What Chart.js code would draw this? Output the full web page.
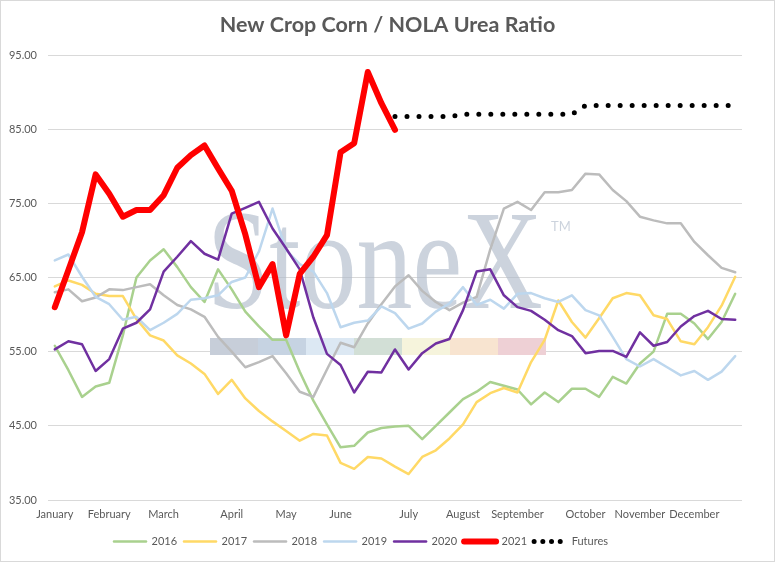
<!DOCTYPE html>
<html>
<head>
<meta charset="utf-8">
<script src="https://cdn.jsdelivr.net/npm/chart.js@4"></script>
<style>
  html, body { margin: 0; padding: 0; background: #fff; }
  #wrap { width: 775px; height: 562px; }
</style>
</head>
<body>
<div id="wrap"><canvas id="ratioChart" width="775" height="562"></canvas></div>
<script>
// weekly points, month name on the first week of each month
const weekLabels = ['January', '', '', '', 'February', '', '', '', 'March', '', '', '', '', 'April', '', '', '', 'May', '', '', '', 'June', '', '', '', '',
    'July', '', '', '', 'August', '', '', '', 'September', '', '', '', '', 'October', '', '', '', 'November', '', '', '', 'December', '', '', ''];

const yTicks = [35, 45, 55, 65, 75, 85, 95];

const ratio2016 = [55.8, 52.5, 48.9, 50.3, 50.8, 57.2, 65.0, 67.3, 68.8, 66.4, 63.7, 61.7, 66.1, 63.4, 60.4, 58.4, 56.6, 56.6, 52.3, 48.4,
    45.2, 42.1, 42.3, 44.1, 44.7, 44.9, 45.0, 43.2, 45.0, 46.8, 48.6, 49.6, 50.9, 50.4, 49.9, 47.9, 49.5, 48.2, 50.0, 50.0,
    48.9, 51.6, 50.7, 53.4, 55.0, 60.1, 60.1, 58.8, 56.7, 59.0, 62.8];
const ratio2017 = [63.8, 64.6, 64.0, 62.8, 62.5, 62.5, 59.4, 57.2, 56.5, 54.5, 53.4, 52.0, 49.3, 51.2, 48.7, 47.0, 45.6, 44.3, 43.0, 43.9,
    43.7, 40.0, 39.2, 40.8, 40.6, 39.5, 38.5, 40.8, 41.7, 43.3, 45.2, 48.2, 49.4, 50.1, 49.5, 53.6, 56.6, 61.9, 59.0, 56.9,
    59.5, 62.2, 62.9, 62.6, 59.9, 59.4, 56.4, 56.0, 58.3, 61.2, 65.1];
const ratio2018 = [63.0, 63.4, 61.8, 62.3, 63.4, 63.3, 63.7, 64.1, 62.6, 61.3, 60.7, 59.7, 57.0, 55.0, 52.9, 53.6, 54.4, 52.1, 49.6, 48.9,
    52.6, 56.2, 55.6, 58.8, 61.4, 63.8, 65.3, 63.2, 61.7, 60.6, 61.6, 62.4, 68.8, 74.3, 75.2, 74.1, 76.5, 76.5, 76.8, 79.0,
    78.9, 76.8, 75.3, 73.2, 72.7, 72.3, 72.3, 69.8, 68.0, 66.3, 65.7];
const ratio2019 = [67.3, 68.1, 65.1, 62.4, 61.4, 59.3, 59.7, 57.9, 58.9, 60.1, 62.0, 62.2, 62.6, 64.4, 65.0, 68.5, 74.3, 68.7, 66.8, 65.8,
    62.9, 58.3, 58.9, 59.2, 61.1, 60.2, 58.1, 58.8, 60.4, 61.5, 63.7, 61.3, 62.0, 60.8, 62.8, 62.9, 62.2, 61.7, 62.6, 60.6,
    59.9, 57.0, 54.0, 53.0, 54.0, 52.9, 51.8, 52.4, 51.2, 52.3, 54.4];
const ratio2020 = [55.3, 56.4, 56.0, 52.4, 54.0, 58.1, 58.9, 60.7, 65.8, 67.8, 69.9, 68.2, 67.4, 73.6, 74.4, 75.2, 71.6, 68.9, 66.1, 59.6,
    54.7, 53.2, 49.5, 52.3, 52.2, 55.3, 52.6, 54.8, 56.1, 56.7, 60.6, 65.8, 66.1, 62.6, 61.0, 60.5, 59.3, 57.9, 57.1, 54.8,
    55.1, 55.1, 54.3, 57.6, 55.8, 56.3, 58.4, 59.8, 60.5, 59.4, 59.3];
const ratio2021 = [61.0, 66.0, 71.1, 78.9, 76.3, 73.2, 74.1, 74.1, 76.1, 79.8, 81.5, 82.8, 79.7, 76.7, 70.8, 63.7, 66.8, 57.2, 65.5, 67.8,
    70.7, 81.9, 83.1, 92.7, 88.5, 84.9];
const ratioFutures = [86.7, 86.7, 86.7, 86.7, 86.7, 87.0, 87.0, 87.0, 87.0, 87.0, 87.0, 87.0, 87.0, 87.0,
    88.2, 88.2, 88.2, 88.2, 88.2, 88.2, 88.2, 88.2, 88.2, 88.2, 88.2, 88.2];
const futuresStart = 25;

const pad = (arr, before) => Array(before).fill(null).concat(arr).concat(Array(Math.max(0, weekLabels.length - before - arr.length)).fill(null));

const textGrey = '#595959';
const fontName = 'Lato, "Open Sans", sans-serif';

// StoneX watermark behind the lines
const watermark = {
    id: 'watermark',
    beforeDatasetsDraw(chart) {
        const ctx = chart.ctx;
        ctx.save();
        ctx.fillStyle = 'rgba(172, 184, 200, 0.62)';
        ctx.font = '141px "Liberation Serif", "DejaVu Serif", serif';
        ctx.textBaseline = 'alphabetic';
        ctx.fillText('StoneX', 207, 308, 336);
        ctx.font = '13px ' + fontName;
        ctx.fillText('TM', 551, 231);
        const barColors = ['#c7ced9', '#c6d3e2', '#dce8f3', '#d2dfd6', '#f6f4dc', '#f8e4d0', '#eed0d5'];
        const x0 = 210, segW = 48;
        barColors.forEach((c, i) => {
            ctx.fillStyle = c;
            ctx.fillRect(x0 + i * segW, 338, segW, 17);
        });
        ctx.restore();
    },
    afterDraw(chart) {
        const ctx = chart.ctx;
        ctx.save();
        ctx.strokeStyle = '#d9d9d9';
        ctx.lineWidth = 1;
        ctx.strokeRect(0.5, 0.5, chart.width - 1, chart.height - 1);
        ctx.restore();
    }
};

// title sits on the canvas centre, legend a little left of it
const boxShift = {
    id: 'boxShift',
    afterLayout(chart) {
        chart.legend.left -= 10;
        chart.legend.right -= 10;
        chart.titleBlock.left += 16.5;
        chart.titleBlock.right += 16.5;
    }
};

function series(label, data, color, width, order) {
    return {
        label, data, order,
        borderColor: color,
        backgroundColor: color,
        borderWidth: width,
        pointRadius: 0,
        pointHoverRadius: 0,
        tension: 0,
        fill: false,
        borderJoinStyle: 'round',
        borderCapStyle: 'round'
    };
}

const futures = series('Futures', pad(ratioFutures, futuresStart), '#000000', 5, 1);
futures.borderDash = [0, 12];

const chart = new Chart(document.getElementById('ratioChart').getContext('2d'), {
    type: 'line',
    data: {
        labels: weekLabels,
        datasets: [
            series('2016', ratio2016, '#a9d18e', 2.5, 7),
            series('2017', ratio2017, '#ffd966', 2.5, 6),
            series('2018', ratio2018, '#bcbcbc', 2.5, 5),
            series('2019', ratio2019, '#bdd7ee', 2.5, 4),
            series('2020', ratio2020, '#7030a0', 2.5, 3),
            series('2021', pad(ratio2021, 0), '#ff0000', 6, 2),
            futures
        ]
    },
    options: {
        responsive: false,
        animation: false,
        devicePixelRatio: 1,
        layout: { padding: { left: 0, right: 33, top: 0, bottom: 5 } },
        scales: {
            x: {
                type: 'category',
                offset: true,
                grid: { display: false, drawTicks: false },
                border: { display: false },
                ticks: { autoSkip: false, maxRotation: 0, minRotation: 0, padding: 8, color: textGrey, font: { family: fontName, size: 11 } },
                afterFit: s => { s.height = 29; }
            },
            y: {
                min: 35,
                max: 95,
                afterBuildTicks: s => { s.ticks = yTicks.map(v => ({ value: v })); },
                grid: { color: '#d9d9d9', lineWidth: 1, drawTicks: false },
                border: { display: false },
                ticks: { padding: 11, color: textGrey, font: { family: fontName, size: 11 }, callback: v => Number(v).toFixed(2) },
                afterFit: s => { s.width = 48; }
            }
        },
        plugins: {
            title: {
                display: true,
                text: 'New Crop Corn / NOLA Urea Ratio',
                color: textGrey,
                font: { family: fontName, size: 21.5, weight: 'bold', lineHeight: 1.2 },
                padding: { top: 12.5, bottom: 16.7 }
            },
            legend: {
                position: 'bottom',
                labels: {
                    color: textGrey,
                    font: { family: fontName, size: 11 },
                    usePointStyle: true,
                    pointStyleWidth: 32,
                    padding: 7,
                    sort: (a, b) => a.datasetIndex - b.datasetIndex,
                    generateLabels: c => Chart.defaults.plugins.legend.labels.generateLabels(c).map(item => {
                        item.pointStyle = 'line';
                        item.lineCap = 'round';
                        if (item.text === 'Futures') {
                            item.lineDash = [0, 8.7];
                            item.lineWidth = 5;
                        }
                        return item;
                    })
                }
            },
            tooltip: { enabled: false }
        }
    },
    plugins: [watermark, boxShift]
});
</script>
</body>
</html>
